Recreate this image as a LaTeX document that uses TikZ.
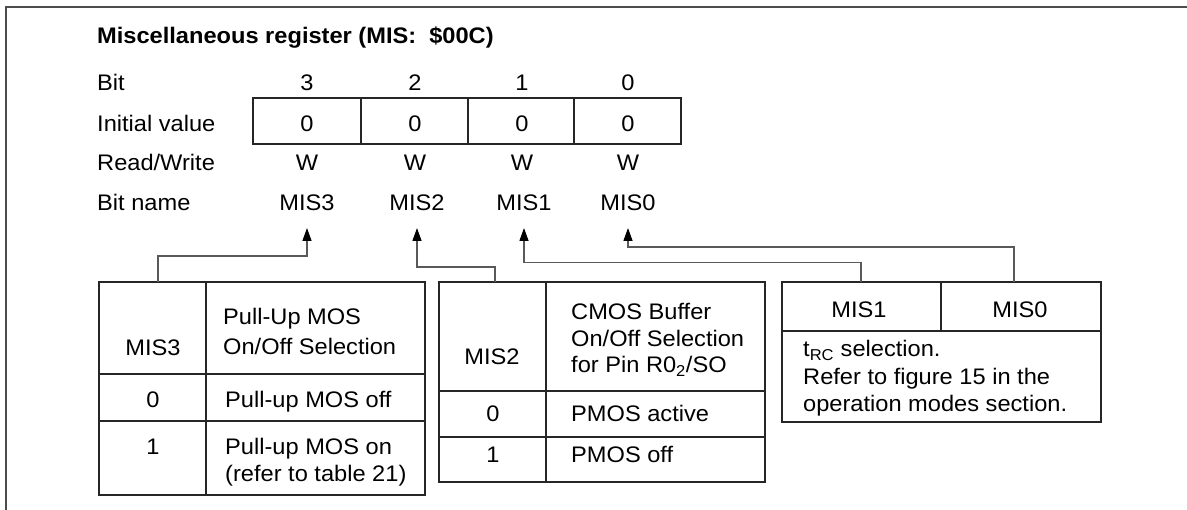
\documentclass[tikz,border=0pt]{standalone}
\usepackage{fontspec}
\setmainfont{Liberation Sans}[FakeStretch=1.05]
\usetikzlibrary{arrows.meta}
\begin{document}
\begin{tikzpicture}[x=1pt,y=-1pt,
  font=\fontsize{22.5}{27}\selectfont,
  lbl/.style={anchor=base west, inner sep=0pt},
  ctr/.style={anchor=base, inner sep=0pt},
  tab/.style={draw=black!85, line width=1.2pt},
  conn/.style={draw=black!65, line width=1.3pt},
  tipped/.style={-{Triangle[length=13pt,width=9pt,color=black]}},
  frame/.style={draw=black!70, line width=1.4pt}]
\useasboundingbox (0,0) rectangle (1187,510);
% frame
\draw[frame] (6,510) -- (6,7) -- (1187,7);
% title and row labels
\node[lbl] (title) at (97,44) {\bfseries Miscellaneous register (MIS:\ \ \$00C)};
\node[lbl] (lbit) at (97,91) {Bit};
\node[lbl] (linit) at (97,132) {Initial value};
\node[lbl] (lrw) at (97,171) {Read/Write};
\node[lbl] (lname) at (97,211) {Bit name};
% register box
\draw[tab] (253,98) rectangle (681,144);
\draw[tab] (361,98) -- (361,144) (468,98) -- (468,144) (574,98) -- (574,144);
\foreach \b/\x in {3/307,2/415,1/522,0/628}{
  \node[ctr] (b\b) at (\x,91) {\b};
  \node[ctr] (v\b) at (\x,132) {0};
  \node[ctr] (w\b) at (\x,171) {W};
}
\node[ctr] (n3) at (307,211) {MIS3};
\node[ctr] (n2) at (417,211) {MIS2};
\node[ctr] (n1) at (524,211) {MIS1};
\node[ctr] (n0) at (628,211) {MIS0};
\coordinate (tip3) at (307,228);
\coordinate (tip2) at (417,228);
\coordinate (tip1) at (524,228);
\coordinate (tip0) at (628,228);
% table 1 (MIS3)
\draw[tab] (99,282) rectangle (425,495);
\draw[tab] (206,282) -- (206,495) (99,374) -- (425,374) (99,421) -- (425,421);
\node[ctr] (t1h) at (153,356) {MIS3};
\node[lbl] (t1a) at (223,325) {Pull-Up MOS};
\node[lbl] (t1b) at (223,355) {On/Off Selection};
\node[ctr] (t1z) at (153,408) {0};
\node[lbl] (t1zt) at (225,408) {Pull-up MOS off};
\node[ctr] (t1o) at (153,455) {1};
\node[lbl] (t1ot) at (225,455) {Pull-up MOS on};
\node[lbl] (t1ot2) at (225,482) {(refer to table 21)};
\coordinate (t1top) at (158,282);
% table 2 (MIS2)
\draw[tab] (439,282) rectangle (765,482);
\draw[tab] (546,282) -- (546,482) (439,391) -- (765,391) (439,437) -- (765,437);
\node[ctr] (t2h) at (492,365) {MIS2};
\node[lbl] (t2a) at (571,320) {CMOS Buffer};
\node[lbl] (t2b) at (571,347) {On/Off Selection};
\node[lbl] (t2c) at (571,373) {for Pin R0\textsubscript{2}/SO};
\node[ctr] (t2z) at (493,422) {0};
\node[lbl] (t2zt) at (571,422) {PMOS active};
\node[ctr] (t2o) at (493,463) {1};
\node[lbl] (t2ot) at (571,463) {PMOS off};
\coordinate (t2top) at (495,282);
% table 3 (MIS1, MIS0)
\draw[tab] (782,282) rectangle (1101,422);
\draw[tab] (941,282) -- (941,331) (782,331) -- (1101,331);
\node[ctr] (t3h1) at (859,318) {MIS1};
\node[ctr] (t3h0) at (1020,318) {MIS0};
\node[lbl] (t3a) at (803,357) {t\textsubscript{RC} selection.};
\node[lbl] (t3b) at (803,384.5) {Refer to figure 15 in the};
\node[lbl] (t3c) at (803,412) {operation modes section.};
\coordinate (t3top1) at (861,282);
\coordinate (t3top0) at (1014,282);
% connectors
\draw[conn,tipped] (t1top) -- (t1top |- 0,256) -| (tip3);
\draw[conn,tipped] (t2top) -- (t2top |- 0,267) -| (tip2);
\draw[conn,tipped] (t3top1) -- (t3top1 |- 0,262.7) -| (tip1);
\draw[conn,tipped] (t3top0) -- (t3top0 |- 0,247) -| (tip0);
\end{tikzpicture}
\end{document}
